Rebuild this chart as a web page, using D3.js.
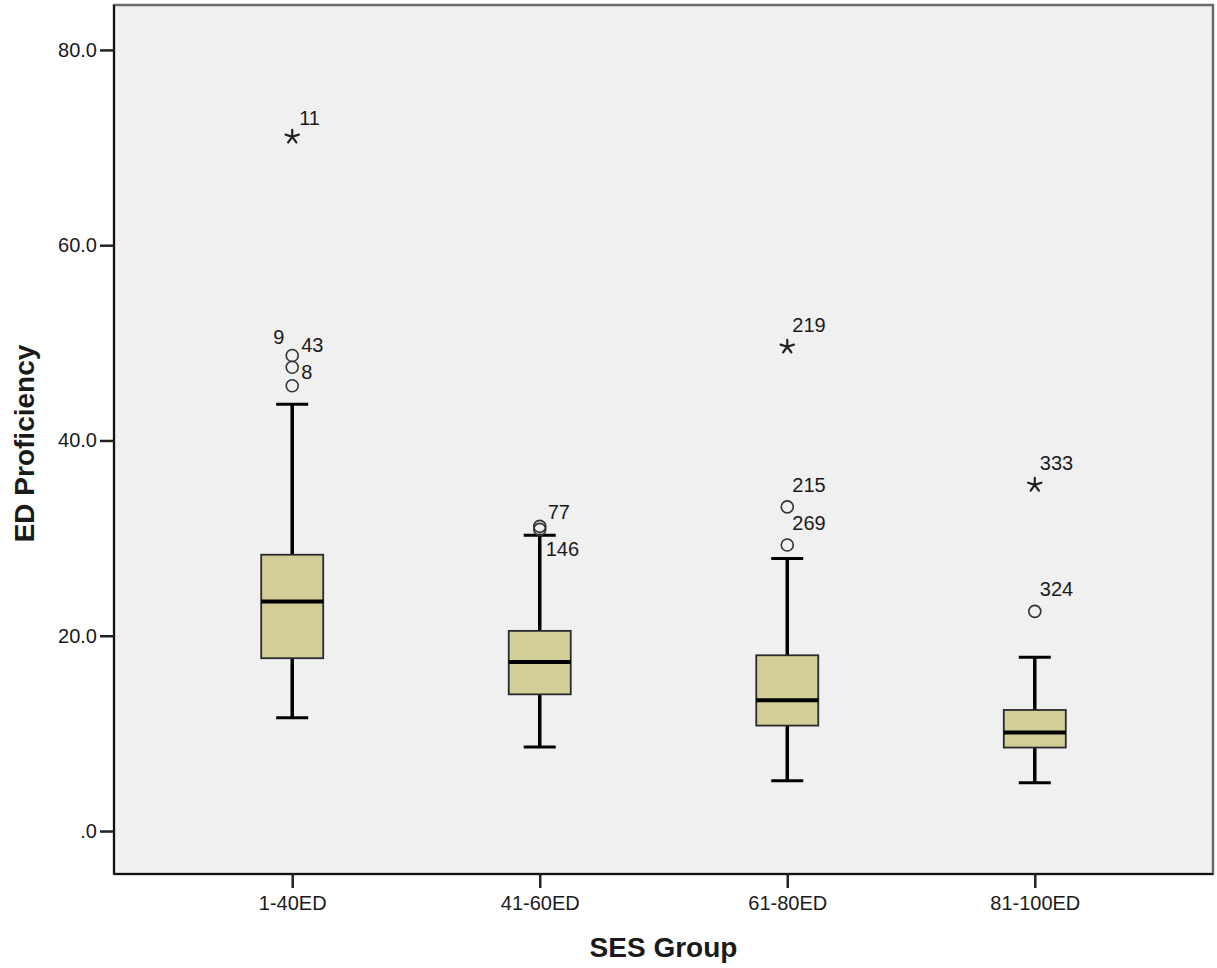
<!DOCTYPE html>
<html>
<head>
<meta charset="utf-8">
<script src="https://cdn.jsdelivr.net/npm/d3@7"></script>
<style>
  body { margin: 0; background: #fff; }
  text { font-family: "Liberation Sans", Arial, sans-serif; fill: #1a1a1a; }
</style>
</head>
<body>
<div id="chart"></div>
<script>
// categories and five-number summaries
var groups = ["1-40ED", "41-60ED", "61-80ED", "81-100ED"];
var whiskerLow  = [11.6, 8.6, 5.15, 4.95];
var q1          = [17.7, 14.0, 10.8, 8.55];
var median      = [23.5, 17.3, 13.4, 10.1];
var q3          = [28.3, 20.5, 18.0, 12.4];
var whiskerHigh = [43.7, 30.3, 27.9, 17.8];

// outliers: group, value, case id, kind
var outGroup = ["1-40ED", "1-40ED", "1-40ED", "1-40ED", "41-60ED", "41-60ED", "61-80ED", "61-80ED", "61-80ED", "81-100ED", "81-100ED"];
var outValue = [45.6, 47.5, 48.7, 71.1, 31.2, 30.9, 29.3, 33.2, 49.6, 22.5, 35.45];
var outId    = ["8", "43", "9", "11", "77", "146", "269", "215", "219", "324", "333"];
var outKind  = ["o", "o", "o", "*", "o", "o", "o", "o", "*", "o", "*"];

var yTicks = [0, 20, 40, 60, 80];
var yTickLabels = [".0", "20.0", "40.0", "60.0", "80.0"];

var width = 1217, height = 968;
var plot = { left: 114, right: 1213, top: 5, bottom: 874 };

var svg = d3.select("#chart").append("svg")
    .attr("width", width)
    .attr("height", height);

var x = d3.scalePoint()
    .domain(groups)
    .range([plot.left, plot.right])
    .padding(0.72);

var y = d3.scaleLinear()
    .domain([-4.4, 84.6])
    .range([plot.bottom, plot.top]);

var boxW = 62, capW = 32;

// plot background + frame
svg.append("rect")
    .attr("x", plot.left).attr("y", plot.top)
    .attr("width", plot.right - plot.left).attr("height", plot.bottom - plot.top)
    .attr("fill", "#f0f0f0")
    .attr("stroke", "#6a6a6a")
    .attr("stroke-width", 2.5);

// y axis
var yAxis = d3.axisLeft(y)
    .tickValues(yTicks)
    .tickFormat((d, i) => yTickLabels[i])
    .tickSize(14)
    .tickPadding(3);

var ya = svg.append("g")
    .attr("transform", `translate(${plot.left},0)`)
    .call(yAxis);
ya.select(".domain").attr("stroke", "#111").attr("stroke-width", 2).attr("d", `M0,${plot.top}V${plot.bottom}`);
ya.selectAll(".tick line").attr("stroke", "#222").attr("stroke-width", 2.5);
ya.selectAll(".tick text").style("font-size", "20px").attr("fill", "#1a1a1a");

// x axis
var xAxis = d3.axisBottom(x).tickSize(14).tickPadding(8);
var xa = svg.append("g")
    .attr("transform", `translate(0,${plot.bottom})`)
    .call(xAxis);
xa.select(".domain").attr("stroke", "#111").attr("stroke-width", 2).attr("d", `M${plot.left},0H${plot.right}`);
xa.selectAll(".tick line").attr("stroke", "#222").attr("stroke-width", 2.5);
xa.selectAll(".tick text").style("font-size", "20px").attr("fill", "#1a1a1a");

// axis titles
svg.append("text")
    .attr("transform", `translate(34,${(plot.top + plot.bottom) / 2 + 4}) rotate(-90)`)
    .attr("text-anchor", "middle")
    .style("font-size", "28px")
    .style("font-weight", "bold")
    .text("ED Proficiency");

svg.append("text")
    .attr("x", (plot.left + plot.right) / 2)
    .attr("y", 957)
    .attr("text-anchor", "middle")
    .style("font-size", "28px")
    .style("font-weight", "bold")
    .text("SES Group");

// boxes
var boxes = svg.append("g").attr("class", "boxes")
    .selectAll("g")
    .data(groups).enter()
    .append("g");

// whiskers
boxes.append("line")
    .attr("x1", d => x(d)).attr("x2", d => x(d))
    .attr("y1", (d, i) => y(whiskerHigh[i]))
    .attr("y2", (d, i) => y(whiskerLow[i]))
    .attr("stroke", "#000").attr("stroke-width", 3.5);

boxes.selectAll(".cap")
    .data((d, i) => [[d, whiskerLow[i]], [d, whiskerHigh[i]]]).enter()
    .append("line")
    .attr("class", "cap")
    .attr("x1", d => x(d[0]) - capW / 2).attr("x2", d => x(d[0]) + capW / 2)
    .attr("y1", d => y(d[1])).attr("y2", d => y(d[1]))
    .attr("stroke", "#000").attr("stroke-width", 3);

boxes.append("rect")
    .attr("x", d => x(d) - boxW / 2)
    .attr("width", boxW)
    .attr("y", (d, i) => y(q3[i]))
    .attr("height", (d, i) => y(q1[i]) - y(q3[i]))
    .attr("fill", "#d3ce98")
    .attr("stroke", "#2a2a2a")
    .attr("stroke-width", 1.8);

boxes.append("line")
    .attr("x1", d => x(d) - boxW / 2).attr("x2", d => x(d) + boxW / 2)
    .attr("y1", (d, i) => y(median[i])).attr("y2", (d, i) => y(median[i]))
    .attr("stroke", "#000").attr("stroke-width", 4);

// outliers
var outliers = outId.map((id, i) => ({ id: id, g: outGroup[i], v: outValue[i], kind: outKind[i] }));

// five-armed asterisk for extreme values
var starPath = (() => {
    var r = 7, p = "";
    for (var k = 0; k < 5; k++) {
        var a = -Math.PI / 2 + k * 2 * Math.PI / 5;
        p += `M0,0L${(r * Math.cos(a)).toFixed(2)},${(r * Math.sin(a)).toFixed(2)}`;
    }
    return p;
})();

var pts = svg.append("g").attr("class", "outliers")
    .selectAll("g")
    .data(outliers).enter()
    .append("g")
    .attr("transform", d => `translate(${x(d.g)},${y(d.v)})`);

pts.filter(d => d.kind == "o")
    .append("circle")
    .attr("r", 6)
    .attr("fill", "none")
    .attr("stroke", "#333")
    .attr("stroke-width", 1.6);

pts.filter(d => d.kind == "*")
    .append("path")
    .attr("d", starPath)
    .attr("fill", "none")
    .attr("stroke", "#222")
    .attr("stroke-width", 2.2)
    .attr("stroke-linecap", "round");

// label offsets where SPSS pushed a label aside
var nudge = {
    "9": [-19, -12], "8": [9, -7], "43": [9, -15],
    "77": [8, -7], "146": [6, 27], "11": [7, -12]
};

pts.append("text")
    .attr("x", d => (nudge[d.id] || [5, -15])[0])
    .attr("y", d => (nudge[d.id] || [5, -15])[1])
    .style("font-size", "20px")
    .text(d => d.id);
</script>
</body>
</html>
